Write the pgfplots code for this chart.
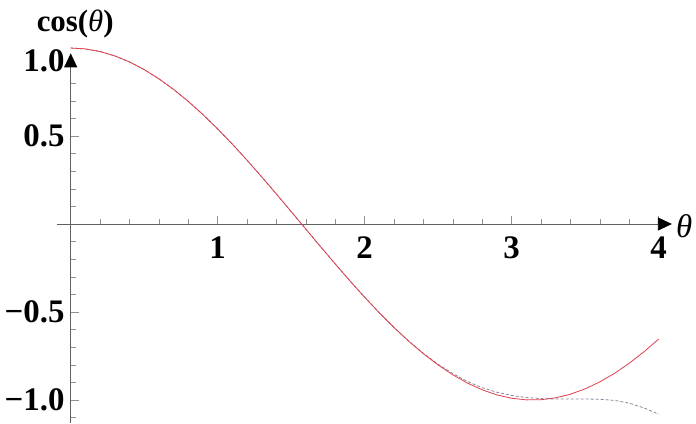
\documentclass[border=0pt]{standalone}
\usepackage{fontspec}
\setmainfont{Liberation Serif}
\usepackage{pgfplots}
\pgfplotsset{compat=1.18}
\usetikzlibrary{arrows.meta}
\definecolor{curvered}{HTML}{E04050}
\definecolor{approxgray}{HTML}{8C8498}
\definecolor{axisgray}{HTML}{606060}
\definecolor{tickgray}{HTML}{909090}

\newcommand{\bigfont}{\fontsize{33}{39}\selectfont}

\begin{document}
\begin{tikzpicture}
\begin{axis}[
    x=147bp, y=176bp,
    xmin=-0.09, xmax=4.09,
    ymin=-1.13, ymax=0.97,
    axis lines=middle,
    axis line style={draw=axisgray, line width=0.8bp,
      -{Triangle[length=14bp,width=13bp,color=black]}},
    xtick={1,2,3,4},
    xticklabels={1,2,3,4},
    ytick={-1,-0.5,0.5},
    yticklabels={−1.0,−0.5,0.5},
    minor xtick={0.2,0.4,0.6,0.8,1.2,1.4,1.6,1.8,2.2,2.4,2.6,2.8,3.2,3.4,3.6,3.8},
    minor ytick={-1.1,-0.9,-0.8,-0.7,-0.6,-0.4,-0.3,-0.2,-0.1,0.1,0.2,0.3,0.4,0.6,0.7,0.8,0.9},
    tick align=center,
    major tick length=8bp, minor tick length=5bp,
    every major x tick/.append style={yshift=4bp},
    every minor x tick/.append style={yshift=2.5bp},
    every major y tick/.append style={xshift=4bp},
    every minor y tick/.append style={xshift=2.5bp},
    tick style={draw=tickgray, line width=0.5bp},
    ticklabel style={font=\bigfont\bfseries, inner sep=0pt},
    xticklabel style={anchor=north, yshift=-9bp},
    yticklabel style={anchor=east, xshift=-2bp},
    clip=false,
  ]

  % series approximation (dashed), drawn under the exact curve
  \addplot[approxgray, line width=0.8bp, dash pattern=on 3bp off 2bp] coordinates {
    (0.0,1.0000) (0.1,0.9950) (0.2,0.9801) (0.3,0.9553) (0.4,0.9211)
    (0.5,0.8776) (0.6,0.8253) (0.7,0.7648) (0.8,0.6967) (0.9,0.6216)
    (1.0,0.5403) (1.1,0.4536) (1.2,0.3624) (1.3,0.2675) (1.4,0.1700)
    (1.5,0.0707) (1.6,-0.0292) (1.7,-0.1288) (1.8,-0.2272) (1.9,-0.3233)
    (2.0,-0.4161) (2.1,-0.5048) (2.2,-0.5883) (2.3,-0.6655) (2.4,-0.735)
    (2.5,-0.797) (2.6,-0.850) (2.7,-0.895) (2.8,-0.930) (2.9,-0.956)
    (3.0,-0.974) (3.1,-0.986) (3.2,-0.992) (3.3,-0.994) (3.4,-0.994)
    (3.5,-0.994) (3.6,-0.996) (3.7,-1.002) (3.8,-1.018) (3.9,-1.045)
    (4.0,-1.080)
  };

  % cos(theta)
  \addplot[curvered, line width=0.8bp] coordinates {
    (0.0,1.0000) (0.1,0.9950) (0.2,0.9801) (0.3,0.9553) (0.4,0.9211)
    (0.5,0.8776) (0.6,0.8253) (0.7,0.7648) (0.8,0.6967) (0.9,0.6216)
    (1.0,0.5403) (1.1,0.4536) (1.2,0.3624) (1.3,0.2675) (1.4,0.1700)
    (1.5,0.0707) (1.6,-0.0292) (1.7,-0.1288) (1.8,-0.2272) (1.9,-0.3233)
    (2.0,-0.4161) (2.1,-0.5048) (2.2,-0.5885) (2.3,-0.6663) (2.4,-0.7374)
    (2.5,-0.8011) (2.6,-0.8569) (2.7,-0.9041) (2.8,-0.9422) (2.9,-0.9710)
    (3.0,-0.9900) (3.1,-0.9991) (3.2,-0.9983) (3.3,-0.9875) (3.4,-0.9668)
    (3.5,-0.9365) (3.6,-0.8968) (3.7,-0.8481) (3.8,-0.7910) (3.9,-0.7259)
    (4.0,-0.6536)
  };

  \node[anchor=east, inner sep=0pt, xshift=-6bp, font=\bigfont\bfseries]
    at (axis cs:0,0.93) {1.0};
  \node[anchor=west, inner sep=0pt, xshift=4bp, font=\bigfont\itshape]
    at (axis cs:4.09,-0.01) {θ};
  \node[anchor=north, inner sep=0pt, xshift=6bp, font=\fontsize{31}{37}\selectfont]
    at (axis cs:-0.01,1.215) {{\bfseries cos(}{\itshape θ}{\bfseries )}};

  \coordinate (bl) at (axis cs:-0.481,-1.131);
  \coordinate (tr) at (axis cs:4.254,1.273);
\end{axis}
\pgfresetboundingbox
\path[use as bounding box] (bl) rectangle (tr);
\end{tikzpicture}
\end{document}
